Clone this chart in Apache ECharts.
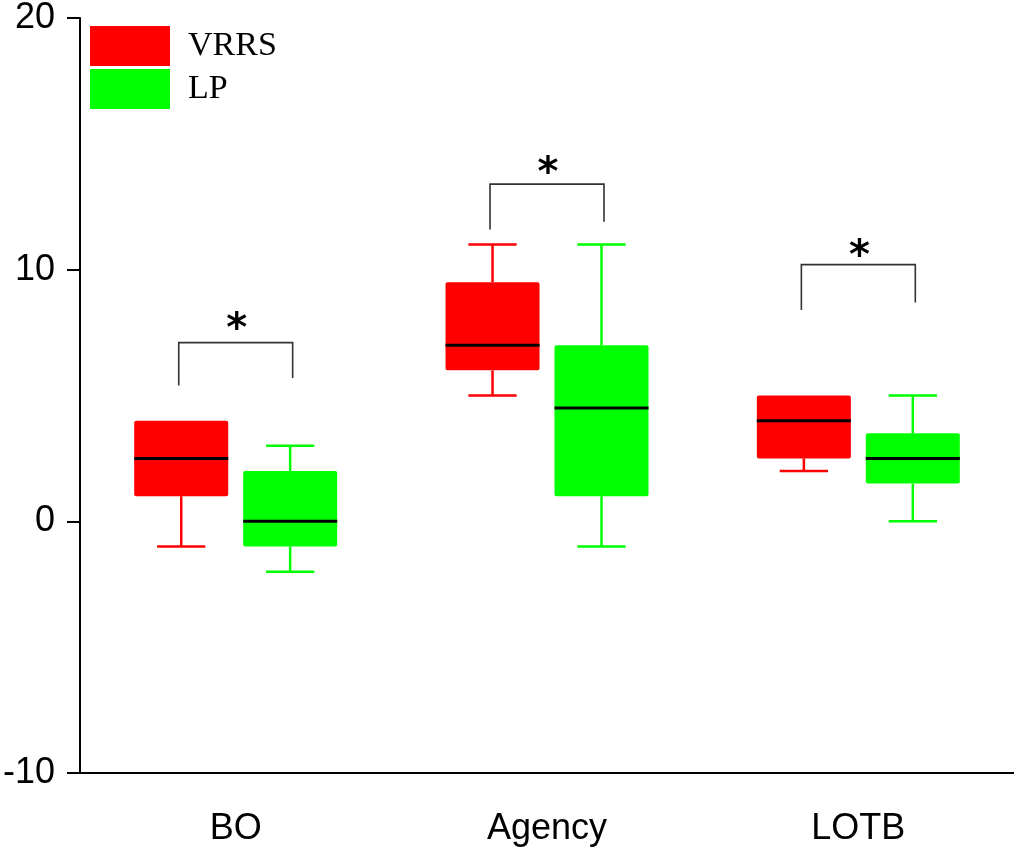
<!DOCTYPE html>
<html>
<head>
<meta charset="utf-8">
<script src="https://cdn.jsdelivr.net/npm/echarts@6/dist/echarts.min.js"></script>
<style>
  html, body { margin: 0; padding: 0; background: #fff; }
  #chart { width: 1014px; height: 850px; }
</style>
</head>
<body>
<div id="chart"></div>
<script>
// ---- data ----
const categories = ['BO', 'Agency', 'LOTB'];
const seriesNames = ['VRRS', 'LP'];
// [min, Q1, median, Q3, max]
const vrrsBoxes = [
  [-1, 1, 2.5, 4, 4],
  [5, 6, 7, 9.5, 11],
  [2, 2.5, 4, 5, 5]
];
const lpBoxes = [
  [-2, -1, 0, 2, 3],
  [-1, 1, 4.5, 7, 11],
  [0, 1.5, 2.5, 3.5, 5]
];
// significance brackets (y values)
const bracketLeftEnd = [5.4, 11.6, 8.4];
const bracketTop = [7.1, 13.4, 10.2];
const bracketRightEnd = [5.7, 11.9, 8.7];
const starY = [7.9, 14.1, 10.8];
const starText = ['*', '*', '*'];
const yTicks = [-10, 0, 10, 20];

// ---- layout constants ----
const BOX_OFFSET = 0.175;   // fraction of band
const BOX_WIDTH = 0.302;
const CAP_WIDTH = 0.155;
const BRACKET_OFFSET = 0.183;

function boxData(arr) {
  return arr.map((v, i) => [i].concat(v));
}

function makeBoxRender(offsetSign, color) {
  return function (params, api) {
    const cat = api.value(0);
    const band = api.size([1, 0])[0];
    const cx = api.coord([cat, 0])[0] + offsetSign * BOX_OFFSET * band;
    const w = BOX_WIDTH * band;
    const cw = CAP_WIDTH * band;
    const yMin = api.coord([cat, api.value(1)])[1];
    const yQ1 = api.coord([cat, api.value(2)])[1];
    const yMed = api.coord([cat, api.value(3)])[1];
    const yQ3 = api.coord([cat, api.value(4)])[1];
    const yMax = api.coord([cat, api.value(5)])[1];
    const lineStyle = { stroke: color, lineWidth: 2.5, fill: null };
    const children = [];
    if (yMax < yQ3 - 0.5) {
      children.push({ type: 'line', shape: { x1: cx, y1: yQ3, x2: cx, y2: yMax }, style: lineStyle });
      children.push({ type: 'line', shape: { x1: cx - cw / 2, y1: yMax, x2: cx + cw / 2, y2: yMax }, style: lineStyle });
    }
    if (yMin > yQ1 + 0.5) {
      children.push({ type: 'line', shape: { x1: cx, y1: yQ1, x2: cx, y2: yMin }, style: lineStyle });
      children.push({ type: 'line', shape: { x1: cx - cw / 2, y1: yMin, x2: cx + cw / 2, y2: yMin }, style: lineStyle });
    }
    children.push({
      type: 'rect',
      shape: { x: cx - w / 2, y: yQ3, width: w, height: yQ1 - yQ3, r: 2 },
      style: { fill: color, stroke: null }
    });
    children.push({
      type: 'line',
      shape: { x1: cx - w / 2, y1: yMed, x2: cx + w / 2, y2: yMed },
      style: { stroke: '#000', lineWidth: 3 }
    });
    return { type: 'group', children: children };
  };
}

const bracketData = categories.map((c, i) => [i, bracketLeftEnd[i], bracketTop[i], bracketRightEnd[i], starY[i]]);

function bracketRender(params, api) {
  const cat = api.value(0);
  const band = api.size([1, 0])[0];
  const cx = api.coord([cat, 0])[0];
  const xl = cx - BRACKET_OFFSET * band;
  const xr = cx + BRACKET_OFFSET * band;
  const yl = api.coord([cat, api.value(1)])[1];
  const yt = api.coord([cat, api.value(2)])[1];
  const yr = api.coord([cat, api.value(3)])[1];
  const ys = api.coord([cat, api.value(4)])[1];
  return {
    type: 'group',
    children: [
      {
        type: 'polyline',
        shape: { points: [[xl, yl], [xl, yt], [xr, yt], [xr, yr]] },
        style: { stroke: '#333', lineWidth: 1.6, fill: null }
      },
      {
        type: 'text',
        style: {
          text: starText[params.dataIndex],
          x: cx + 1,
          y: ys + 8,
          align: 'center',
          verticalAlign: 'middle',
          fontFamily: 'DejaVu Sans, sans-serif',
          fontWeight: 'bold',
          fontSize: 40,
          fill: '#000'
        }
      }
    ]
  };
}

const chart = echarts.init(document.getElementById('chart'), null, { renderer: 'canvas' });
chart.setOption({
  backgroundColor: '#fff',
  animation: false,
  grid: { left: 80, right: 0, top: 18, bottom: 77, containLabel: false },
  legend: {
    left: 90,
    top: 26,
    padding: 0,
    orient: 'vertical',
    itemWidth: 80,
    itemHeight: 40,
    itemGap: 3,
    data: seriesNames.map(n => ({ name: n, icon: 'rect' })),
    textStyle: {
      fontFamily: 'Liberation Serif, Times New Roman, serif',
      fontSize: 34,
      color: '#000',
      padding: [0, 0, 0, 13]
    }
  },
  xAxis: {
    type: 'category',
    data: categories,
    boundaryGap: true,
    axisLine: { onZero: false, lineStyle: { color: '#000', width: 2 } },
    axisTick: { alignWithLabel: true, length: 13, lineStyle: { color: '#000', width: 2 } },
    axisLabel: {
      margin: 38,
      fontFamily: 'Liberation Sans, Arial, sans-serif',
      fontSize: 36,
      color: '#000'
    },
    splitLine: { show: false }
  },
  yAxis: {
    type: 'value',
    min: yTicks[0],
    max: yTicks[yTicks.length - 1],
    interval: 10,
    axisLine: { show: true, onZero: false, lineStyle: { color: '#000', width: 2 } },
    axisTick: { show: true, length: 13, lineStyle: { color: '#000', width: 2 } },
    axisLabel: {
      margin: 25,
      fontFamily: 'Liberation Sans, Arial, sans-serif',
      fontSize: 36,
      color: '#000'
    },
    splitLine: { show: false }
  },
  series: [
    {
      name: seriesNames[0],
      type: 'custom',
      itemStyle: { color: '#ff0000' },
      renderItem: makeBoxRender(-1, '#ff0000'),
      encode: { x: 0, y: [1, 2, 3, 4, 5] },
      data: boxData(vrrsBoxes),
      z: 2
    },
    {
      name: seriesNames[1],
      type: 'custom',
      itemStyle: { color: '#00ff00' },
      renderItem: makeBoxRender(1, '#00ff00'),
      encode: { x: 0, y: [1, 2, 3, 4, 5] },
      data: boxData(lpBoxes),
      z: 2
    },
    {
      name: 'brackets',
      type: 'custom',
      renderItem: bracketRender,
      encode: { x: 0, y: [1, 2, 3, 4] },
      data: bracketData,
      silent: true,
      z: 3
    }
  ]
});
</script>
</body>
</html>
